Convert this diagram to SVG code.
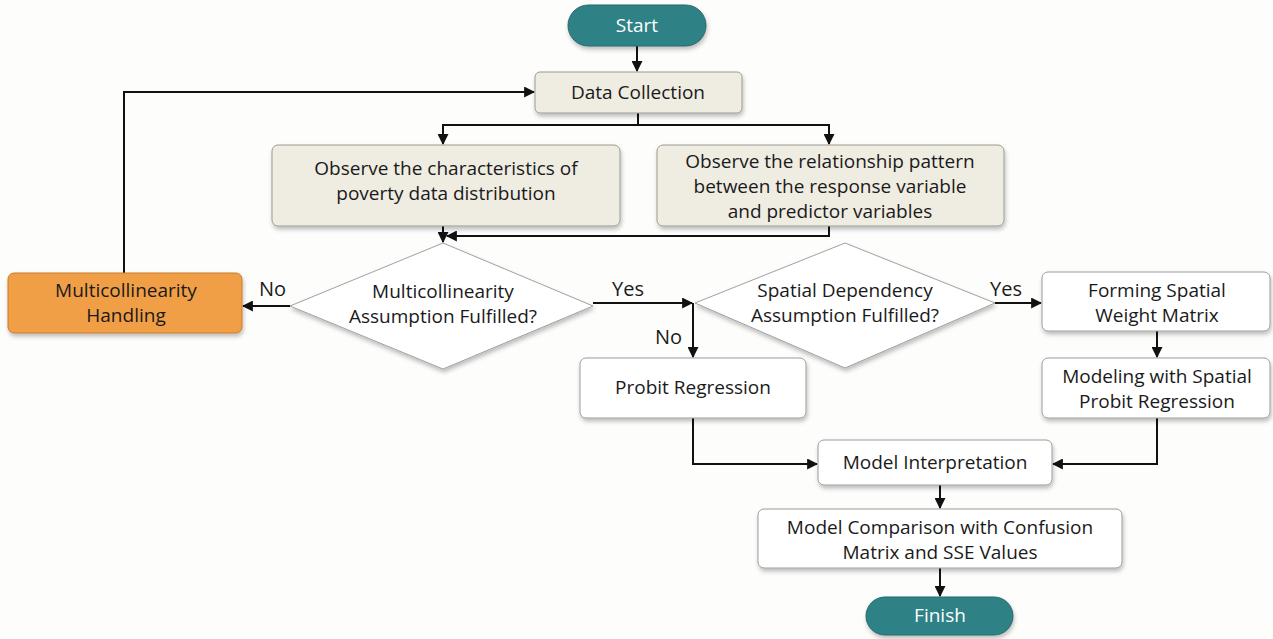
<svg xmlns="http://www.w3.org/2000/svg" width="1273" height="639" viewBox="0 0 1273 639">
<defs>
<marker id="ah" viewBox="0 0 10 10" refX="9" refY="5" markerWidth="11" markerHeight="11" markerUnits="userSpaceOnUse" orient="auto">
<path d="M0,0 L10,5 L0,10 z" fill="#111"/>
</marker>
<filter id="sh" x="-10%" y="-20%" width="120%" height="150%">
<feDropShadow dx="1" dy="3" stdDeviation="2" flood-color="#000" flood-opacity="0.25"/>
</filter>
<style>
.t{font-family:"Open Sans","Noto Sans","Liberation Sans",sans-serif;font-size:19px;fill:#1a1a1a;text-anchor:middle}
.w{fill:#ffffff}
.lbl{font-family:"Open Sans","Noto Sans","Liberation Sans",sans-serif;font-size:20px;fill:#1a1a1a}
.pill{fill:#2f8185;stroke:#25686b;stroke-width:1}
.beige{fill:#efece2;stroke:#9c9a92;stroke-width:1}
.white{fill:#ffffff;stroke:#9c9c9c;stroke-width:1}
.orange{fill:#f19f47;stroke:#c97a2a;stroke-width:1}
.dia{fill:#ffffff;stroke:#a0a0a0;stroke-width:1}
.c{fill:none;stroke:#111;stroke-width:2}
</style>
</defs>
<rect width="1273" height="639" fill="#fdfdfc"/>
<g id="connectors">
<path class="c" d="M637,46 V71" marker-end="url(#ah)"/>
<path class="c" d="M124,273 V92 H534" marker-end="url(#ah)"/>
<path class="c" d="M638,113 V125 H443 V144" marker-end="url(#ah)"/>
<path class="c" d="M638,125 H829 V144" marker-end="url(#ah)"/>
<path class="c" d="M443,226 V242" marker-end="url(#ah)"/>
<path class="c" d="M829,226 V236 H447" marker-end="url(#ah)"/>
<path class="c" d="M290,306 H243" marker-end="url(#ah)"/>
<path class="c" d="M593,303 H692" marker-end="url(#ah)"/>
<path class="c" d="M693,303 V357" marker-end="url(#ah)"/>
<path class="c" d="M995,303 H1041" marker-end="url(#ah)"/>
<path class="c" d="M1157,331 V357" marker-end="url(#ah)"/>
<path class="c" d="M693,418 V464 H817" marker-end="url(#ah)"/>
<path class="c" d="M1157,418 V464 H1053" marker-end="url(#ah)"/>
<path class="c" d="M940,485 V508" marker-end="url(#ah)"/>
<path class="c" d="M940,568 V596" marker-end="url(#ah)"/>
<text class="lbl" x="259" y="296">No</text>
<text class="lbl" x="612" y="296">Yes</text>
<text class="lbl" x="655" y="344">No</text>
<text class="lbl" x="990" y="296">Yes</text>
</g>
<g id="start">
<rect class="pill" x="568" y="5" width="138" height="41" rx="20.5" filter="url(#sh)"/>
<text class="t w" x="637" y="32">Start</text>
</g>
<g id="data-collection">
<rect class="beige" x="535" y="72" width="207" height="41" rx="5" filter="url(#sh)"/>
<text class="t" x="638" y="99">Data Collection</text>
</g>
<g id="observe-characteristics">
<rect class="beige" x="272" y="145" width="348" height="81" rx="6" filter="url(#sh)"/>
<text class="t" x="446" y="175">Observe the characteristics of</text>
<text class="t" x="446" y="200">poverty data distribution</text>
</g>
<g id="observe-relationship">
<rect class="beige" x="657" y="145" width="347" height="81" rx="6" filter="url(#sh)"/>
<text class="t" x="830" y="168">Observe the relationship pattern</text>
<text class="t" x="830" y="193">between the response variable</text>
<text class="t" x="830" y="218">and predictor variables</text>
</g>
<g id="multicollinearity-check">
<polygon class="dia" points="443,243 593,306 443,369 290,306" filter="url(#sh)"/>
<text class="t" x="443" y="298">Multicollinearity</text>
<text class="t" x="443" y="323">Assumption Fulfilled?</text>
</g>
<g id="multicollinearity-handling">
<rect class="orange" x="8" y="273" width="234" height="60" rx="6" filter="url(#sh)"/>
<text class="t" x="126" y="297">Multicollinearity</text>
<text class="t" x="126" y="322">Handling</text>
</g>
<g id="spatial-check">
<polygon class="dia" points="845,243 995,303 845,368 695,303" filter="url(#sh)"/>
<text class="t" x="845" y="297">Spatial Dependency</text>
<text class="t" x="845" y="322">Assumption Fulfilled?</text>
</g>
<g id="forming-matrix">
<rect class="white" x="1042" y="272" width="228" height="59" rx="6" filter="url(#sh)"/>
<text class="t" x="1157" y="297">Forming Spatial</text>
<text class="t" x="1157" y="322">Weight Matrix</text>
</g>
<g id="spatial-probit">
<rect class="white" x="1042" y="358" width="228" height="60" rx="6" filter="url(#sh)"/>
<text class="t" x="1157" y="383">Modeling with Spatial</text>
<text class="t" x="1157" y="408">Probit Regression</text>
</g>
<g id="probit">
<rect class="white" x="580" y="358" width="226" height="60" rx="6" filter="url(#sh)"/>
<text class="t" x="693" y="394">Probit Regression</text>
</g>
<g id="model-interpretation">
<rect class="white" x="818" y="440" width="234" height="45" rx="6" filter="url(#sh)"/>
<text class="t" x="935" y="469">Model Interpretation</text>
</g>
<g id="model-comparison">
<rect class="white" x="758" y="509" width="364" height="59" rx="6" filter="url(#sh)"/>
<text class="t" x="940" y="534">Model Comparison with Confusion</text>
<text class="t" x="940" y="559">Matrix and SSE Values</text>
</g>
<g id="finish">
<rect class="pill" x="866" y="597" width="147" height="38" rx="19" filter="url(#sh)"/>
<text class="t w" x="940" y="622">Finish</text>
</g>
</svg>
